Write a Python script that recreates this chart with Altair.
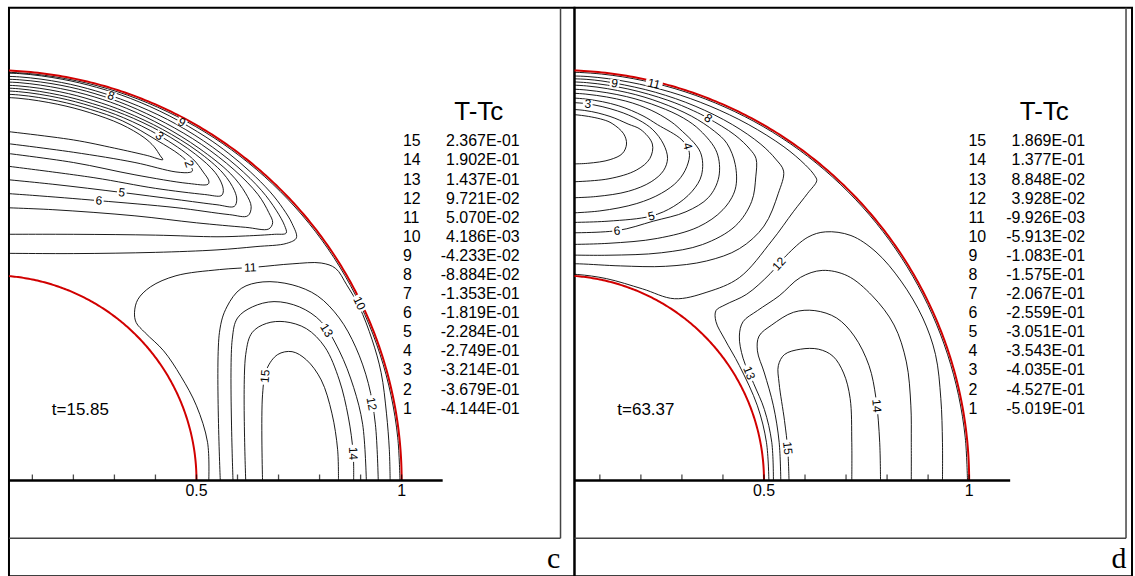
import altair as alt
import numpy as np
import pandas as pd

# ---------------- data ----------------
levels = list(range(15, 0, -1))
values_c = ["2.367E-01", "1.902E-01", "1.437E-01", "9.721E-02", "5.070E-02",
            "4.186E-03", "-4.233E-02", "-8.884E-02", "-1.353E-01", "-1.819E-01",
            "-2.284E-01", "-2.749E-01", "-3.214E-01", "-3.679E-01", "-4.144E-01"]
values_d = ["1.869E-01", "1.377E-01", "8.848E-02", "3.928E-02", "-9.926E-03",
            "-5.913E-02", "-1.083E-01", "-1.575E-01", "-2.067E-01", "-2.559E-01",
            "-3.051E-01", "-3.543E-01", "-4.035E-01", "-4.527E-01", "-5.019E-01"]
times = ["t=15.85", "t=63.37"]
letters = ["c", "d"]
legend_title = "T-Tc"
tick_values = [0.1, 0.2, 0.3, 0.4, 0.5, 0.6, 0.7, 0.8, 0.9, 1.0]
tick_labels = {0.5: "0.5", 1.0: "1"}
radii = [0.5, 1.0]

# Contours: segments of ("p", [(angle_deg, distance_from_outer_wall)]) or ("c", [(x, y)])
wall_hug = [(0, .004), (6, .004), (12, .004), (18, .004), (24, .004), (30, .004), (36, .004),
            (42, .004), (48, .004), (54, .004), (60, .004), (66, .004), (72, .004), (78, .004),
            (84, .004), (90, .004), (93, .004)]

# ---- panel c (t = 15.85) ----
c15 = [("c", [(0.661, 0.0), (0.661, 0.209), (0.671, 0.271), (0.698, 0.307), (0.733, 0.314),
              (0.768, 0.294), (0.804, 0.245), (0.830, 0.164), (0.844, 0.075), (0.846, 0.0)])]
c14 = [("c", [(0.620, 0.0), (0.620, 0.307), (0.636, 0.361), (0.671, 0.383), (0.715, 0.387),
              (0.768, 0.370), (0.813, 0.325), (0.848, 0.245), (0.870, 0.155), (0.882, 0.066),
              (0.883, 0.0)])]
c13 = [("c", [(0.589, 0.0), (0.587, 0.343), (0.600, 0.396), (0.636, 0.423), (0.689, 0.436),
              (0.751, 0.423), (0.804, 0.387), (0.848, 0.316), (0.883, 0.227), (0.905, 0.137),
              (0.914, 0.0)])]
c12 = [("c", [(0.558, 0.0), (0.556, 0.361), (0.574, 0.423), (0.609, 0.468), (0.662, 0.484),
              (0.733, 0.477), (0.795, 0.450), (0.848, 0.396), (0.888, 0.325), (0.919, 0.236),
              (0.936, 0.137), (0.943, 0.0)])]
c11 = [("c", [(0.530, 0.0), (0.527, 0.093), (0.500, 0.182), (0.462, 0.254), (0.420, 0.316),
              (0.375, 0.360), (0.353, 0.385), (0.349, 0.410), (0.357, 0.441), (0.388, 0.472),
              (0.450, 0.499), (0.556, 0.514), (0.645, 0.520), (0.733, 0.528), (0.804, 0.530),
              (0.839, 0.517), (0.866, 0.477), (0.897, 0.423), (0.928, 0.343), (0.950, 0.263),
              (0.963, 0.164), (0.970, 0.075), (0.972, 0.0)])]
c10 = [("p", wall_hug)]
c9 = [("p", [(93, .006), (86, .006), (80, .007), (75, .008), (70, .009), (64, .011), (58, .013),
             (54, .015), (50, .018), (46, .022), (43, .028), (40.5, .036), (38.5, .050)]),
      ("c", [(0.72, 0.578), (0.645, 0.570), (0.55, 0.562), (0.40, 0.556), (0.2, 0.553),
             (0.0, 0.554)])]
c8 = [("p", [(93, .013), (86, .014), (80, .015), (75, .017), (70, .019), (64, .021), (58, .024),
             (52, .028), (47, .034), (43.5, .043), (41, .053), (40, .062)]),
      ("c", [(0.69, 0.600), (0.62, 0.596), (0.55, 0.594), (0.40, 0.598), (0.2, 0.600),
             (0.0, 0.600)])]
c7 = [("p", [(93, .020), (86, .021), (80, .022), (75, .024), (70, .027), (64, .031), (58, .034),
             (52, .039), (47, .047), (44, .060), (42.5, .070)]),
      ("c", [(0.676, 0.613), (0.62, 0.617), (0.5, 0.628), (0.35, 0.645), (0.15, 0.66),
             (0.0, 0.666)])]
c6 = [("p", [(93, .027), (86, .028), (80, .030), (75, .032), (70, .035), (64, .040), (58, .045),
             (52, .052), (48.5, .065), (46.5, .080)]),
      ("c", [(0.625, 0.645), (0.58, 0.648), (0.45, 0.665), (0.262, 0.682), (0.1, 0.695),
             (0.0, 0.702)])]
c5 = [("p", [(93, .034), (86, .036), (80, .038), (75, .041), (70, .044), (64, .048), (58, .053),
             (53, .062), (50, .078), (48.8, .092)]),
      ("c", [(0.592, 0.668), (0.55, 0.672), (0.45, 0.685), (0.318, 0.702), (0.15, 0.722),
             (0.0, 0.737)])]
c4 = [("p", [(93, .041), (86, .043), (80, .046), (75, .049), (70, .051), (64, .055), (58, .062),
             (54, .072), (52, .086), (51.2, .098)]),
      ("c", [(0.56, 0.694), (0.52, 0.697), (0.40, 0.712), (0.25, 0.738), (0.0, 0.771)])]
c3 = [("p", [(93, .048), (86, .050), (80, .053), (75, .056), (70, .059), (64, .065), (58, .075),
             (55.5, .088), (54, .098)]),
      ("c", [(0.528, 0.722), (0.48, 0.724), (0.35, 0.745), (0.2, 0.775), (0.0, 0.802)])]
c2 = [("p", [(93, .056), (86, .058), (80, .061), (75, .064), (70, .067), (64, .078), (60, .083),
             (58, .090), (57, .100)]),
      ("c", [(0.484, 0.751), (0.45, 0.752), (0.35, 0.775), (0.2, 0.80), (0.0, 0.826)])]
c1 = [("p", [(93, .064), (86, .066), (80, .069), (75, .072), (70, .076), (66, .085), (64, .095),
             (62.5, .108)]),
      ("c", [(0.418, 0.782), (0.38, 0.792), (0.30, 0.81), (0.2, 0.83), (0.0, 0.855)])]
contours_c = {"15": c15, "14": c14, "13": c13, "12": c12, "11": c11, "10": c10, "9": c9,
              "8": c8, "7": c7, "6": c6, "5": c5, "4": c4, "3": c3, "2": c2, "1": c1}
labels_c = [("8", 0.292, 0.938, 17), ("9", 0.464, 0.873, 28), ("3", 0.410, 0.840, 40),
            ("2", 0.482, 0.772, 70), ("5", 0.318, 0.702, 7), ("6", 0.262, 0.682, 5),
            ("11", 0.631, 0.519, 358), ("10", 0.897, 0.432, 64), ("13", 0.817, 0.366, 58),
            ("12", 0.927, 0.187, 80), ("14", 0.882, 0.066, 88), ("15", 0.667, 0.254, 275)]

# ---- panel d (t = 63.37) ----
d15 = [("c", [(0.561, 0.0), (0.558, 0.075), (0.550, 0.146), (0.537, 0.236), (0.535, 0.280),
              (0.550, 0.307), (0.589, 0.320), (0.633, 0.320), (0.668, 0.303), (0.694, 0.262),
              (0.710, 0.200), (0.714, 0.093), (0.714, 0.0)])]
d14 = [("c", [(0.541, 0.0), (0.537, 0.093), (0.523, 0.182), (0.501, 0.262), (0.484, 0.316),
              (0.488, 0.352), (0.519, 0.379), (0.572, 0.410), (0.624, 0.414), (0.677, 0.396),
              (0.720, 0.352), (0.756, 0.280), (0.773, 0.200), (0.782, 0.093), (0.784, 0.0)])]
d13 = [("c", [(0.523, 0.0), (0.519, 0.093), (0.501, 0.173), (0.475, 0.236), (0.449, 0.298),
              (0.440, 0.352), (0.449, 0.387), (0.484, 0.414), (0.537, 0.450), (0.589, 0.495),
              (0.642, 0.512), (0.703, 0.499), (0.764, 0.450), (0.817, 0.379), (0.847, 0.289),
              (0.858, 0.182), (0.859, 0.093), (0.859, 0.0)])]
d12 = [("c", [(0.512, 0.0), (0.506, 0.093), (0.484, 0.182), (0.440, 0.280), (0.405, 0.343),
              (0.383, 0.387), (0.383, 0.414), (0.405, 0.428), (0.458, 0.454), (0.515, 0.504),
              (0.554, 0.548), (0.607, 0.593), (0.650, 0.606), (0.712, 0.597), (0.773, 0.557),
              (0.834, 0.486), (0.887, 0.396), (0.918, 0.307), (0.931, 0.200), (0.935, 0.093),
              (0.935, 0.0)])]
d11 = [("p", wall_hug)]
d10 = [("p", [(93, .013), (86, .013), (80, .014), (74, .015), (68, .016), (62, .017), (56, .019),
              (52, .024), (50, .030), (49.3, .036)]),
       ("c", [(0.6065, 0.700), (0.5715, 0.655), (0.519, 0.584), (0.44, 0.4945), (0.361, 0.459),
              (0.282, 0.443), (0.204, 0.467), (0.116, 0.492), (0.046, 0.502), (0.0, 0.503)])]
d9 = [("p", [(93, .019), (86, .020), (82, .022), (76, .025), (70, .029), (64, .035), (59, .044),
             (56, .055), (54, .068)]),
      ("c", [(0.535, 0.70), (0.50, 0.62), (0.44, 0.565), (0.36, 0.535), (0.26, 0.522),
             (0.15, 0.523), (0.05, 0.528), (0.0, 0.5285)])]
d8 = [("p", [(93, .026), (86, .028), (80, .031), (74, .036), (70, .041), (67.6, .045), (63, .055),
             (60, .068), (58.5, .080)]),
      ("c", [(0.48, 0.74), (0.47, 0.68), (0.43, 0.62), (0.35, 0.575), (0.25, 0.555),
             (0.12, 0.549), (0.0, 0.55)])]
d7 = [("p", [(93, .034), (86, .036), (80, .040), (75, .046), (70, .055), (66, .068), (63.5, .082)]),
      ("c", [(0.43, 0.77), (0.43, 0.71), (0.40, 0.66), (0.34, 0.618), (0.24, 0.59),
             (0.12, 0.578), (0.0, 0.575)])]
d6 = [("p", [(93, .043), (86, .046), (80, .050), (75, .057), (71, .066), (68, .080)]),
      ("c", [(0.385, 0.80), (0.39, 0.74), (0.365, 0.69), (0.31, 0.655), (0.23, 0.632),
             (0.142, 0.609), (0.0, 0.6035)])]
d5 = [("p", [(93, .053), (86, .056), (80, .061), (76, .070), (73, .082), (71, .094)]),
      ("c", [(0.345, 0.80), (0.348, 0.745), (0.325, 0.705), (0.28, 0.668), (0.2255, 0.6446),
             (0.12, 0.632), (0.0, 0.6285)])]
d4 = [("p", [(93, .064), (86, .068), (81, .075), (77, .088), (74.5, .100)]),
      ("c", [(0.30, 0.83), (0.318, 0.80), (0.312, 0.765), (0.29, 0.73), (0.25, 0.70),
             (0.19, 0.675), (0.10, 0.657), (0.0, 0.6508)])]
d3 = [("p", [(93, .077), (86, .079), (81, .088), (77.5, .100), (75, .115)]),
      ("c", [(0.255, 0.82), (0.265, 0.785), (0.255, 0.755), (0.225, 0.728), (0.17, 0.705),
             (0.09, 0.692), (0.0, 0.6883)])]
d2 = [("p", [(93, .092), (86, .096), (82, .104), (79, .115)]),
      ("c", [(0.20, 0.855), (0.228, 0.82), (0.222, 0.785), (0.19, 0.757), (0.12, 0.735),
             (0.0, 0.7268)])]
d1 = [("p", [(93, .105), (87, .108), (83, .114)]),
      ("c", [(0.13, 0.87), (0.158, 0.845), (0.165, 0.82), (0.155, 0.797), (0.125, 0.782),
             (0.07, 0.773), (0.0, 0.7714)])]
contours_d = {"15": d15, "14": d14, "13": d13, "12": d12, "11": d11, "10": d10, "9": d9,
              "8": d8, "7": d7, "6": d6, "5": d5, "4": d4, "3": d3, "2": d2, "1": d1}
labels_d = [("9", 0.136, 0.968, 8), ("11", 0.232, 0.967, 13), ("3", 0.0707, 0.918, 5),
            ("8", 0.364, 0.883, 35), ("4", 0.314, 0.815, 75), ("5", 0.2255, 0.6446, 347),
            ("6", 0.142, 0.609, 355), ("12", 0.5365, 0.528, 312), ("13", 0.464, 0.262, 68),
            ("14", 0.775, 0.182, 85), ("15", 0.558, 0.079, 84)]

# ---------------- layout ----------------
PX = 411.4          # pixels per data unit
H = 570
Y0 = 474            # local pixel row of y = 0
RED = "#d10000"


def contour_rows(contours):
    rows = []
    for name, segs in contours.items():
        o = 0
        for kind, pts in segs:
            for a, b in pts:
                if kind == "p":
                    r = 1.0 - b
                    x, y = r * np.cos(np.radians(a)), r * np.sin(np.radians(a))
                else:
                    x, y = a, b
                rows.append({"lev": name, "o": o, "x": x, "y": y})
                o += 1
    return pd.DataFrame(rows, columns=["lev", "o", "x", "y"])


def panel(contours, labels, values, time_txt, letter, x0_local, width):
    xdom = [(0 - x0_local) / PX, (width - x0_local) / PX]
    ydom = [(Y0 - H) / PX, Y0 / PX]
    xs = alt.Scale(domain=xdom, nice=False, zero=False)
    ys = alt.Scale(domain=ydom, nice=False, zero=False)
    X = alt.X("x:Q", scale=xs, axis=None)
    Y = alt.Y("y:Q", scale=ys, axis=None)

    def dx(px):
        return (px - x0_local) / PX

    def dy(py):
        return (Y0 - py) / PX

    lines = alt.Chart(contour_rows(contours)).mark_line(
        color="black", strokeWidth=0.9, clip=True, interpolate="catmull-rom").encode(
        x=X, y=Y, detail="lev:N", order="o:Q")

    th = np.radians(np.arange(0, 90.5, 0.5))
    wrows = []
    for r in radii:
        for i, t in enumerate(th):
            wrows.append({"r": str(r), "o": i, "x": r * np.cos(t), "y": r * np.sin(t)})
    walls = alt.Chart(pd.DataFrame(wrows)).mark_line(color=RED, strokeWidth=2, clip=True).encode(
        x=X, y=Y, detail="r:N", order="o:Q")

    ldf = pd.DataFrame(labels, columns=["t", "x", "y", "a"])
    ldf["shp"] = ["M-1,-0.42L1,-0.42L1,0.42L-1,0.42Z" if len(t) > 1 else
                  "M-1,-0.8L1,-0.8L1,0.8L-1,0.8Z" for t in ldf["t"]]
    ldf["sz"] = [290 if len(t) > 1 else 95 for t in ldf["t"]]
    boxes = alt.Chart(ldf).mark_point(filled=True, color="white", opacity=1, strokeWidth=0).encode(
        x=X, y=Y, shape=alt.Shape("shp:N", scale=None), size=alt.Size("sz:Q", scale=None),
        angle=alt.Angle("a:Q", scale=None))
    ltext = alt.Chart(ldf).mark_text(font="Arial", fontSize=12, color="black",
                                     baseline="middle", align="center").encode(
        x=X, y=Y, text="t:N", angle=alt.Angle("a:Q", scale=None))

    axdf = pd.DataFrame({"x": [0.0], "x2": [1.1], "y": [0.0]})
    axis_line = alt.Chart(axdf).mark_rule(color="black", strokeWidth=2.5, clip=True).encode(
        x=X, x2="x2:Q", y=Y)
    tdf = pd.DataFrame({"x": tick_values, "y": [0.0] * len(tick_values)})
    ticks = alt.Chart(tdf).mark_tick(color="black", orient="vertical", size=6, thickness=1.3,
                                     yOffset=-3).encode(x=X, y=Y)
    tldf = pd.DataFrame({"x": list(tick_labels.keys()), "y": [0.0] * len(tick_labels),
                         "t": list(tick_labels.values())})
    tick_text = alt.Chart(tldf).mark_text(font="Arial", fontSize=16, baseline="top", dy=3).encode(
        x=X, y=Y, text="t:N")

    n = len(levels)
    legdf = pd.DataFrame({"lev": [str(v) for v in levels], "val": values,
                          "y": [dy(134 + 19.14 * i) for i in range(n)],
                          "xn": [dx(395)] * n, "xv": [dx(512)] * n})
    leg_num = alt.Chart(legdf).mark_text(font="Arial", fontSize=16, align="left",
                                         baseline="middle").encode(
        x=alt.X("xn:Q", scale=xs, axis=None), y=Y, text="lev:N")
    leg_val = alt.Chart(legdf).mark_text(font="Arial", fontSize=16, align="right",
                                         baseline="middle").encode(
        x=alt.X("xv:Q", scale=xs, axis=None), y=Y, text="val:N")
    title = alt.Chart(pd.DataFrame({"t": [legend_title]})).mark_text(
        font="Arial", fontSize=26, align="center", baseline="middle").encode(
        x=alt.value(471), y=alt.value(105), text="t:N")
    ttxt = alt.Chart(pd.DataFrame({"t": [time_txt]})).mark_text(
        font="Arial", fontSize=17, align="left", baseline="middle").encode(
        x=alt.value(43), y=alt.value(403), text="t:N")
    let = alt.Chart(pd.DataFrame({"t": [letter]})).mark_text(
        font="Liberation Serif", fontSize=30, align="center", baseline="alphabetic").encode(
        x=alt.value(546), y=alt.value(562), text="t:N")

    fr1 = alt.Chart(pd.DataFrame({"a": [0]})).mark_rule(color="#444444", strokeWidth=1.5).encode(
        x=alt.value(553), y=alt.value(0), y2=alt.value(532))
    fr2 = alt.Chart(pd.DataFrame({"a": [0]})).mark_rule(color="#444444", strokeWidth=1.5).encode(
        x=alt.value(0), x2=alt.value(553), y=alt.value(532))

    return alt.layer(lines, walls, boxes, ltext, axis_line, ticks, tick_text,
                     leg_num, leg_val, title, ttxt, let, fr1, fr2).properties(
        width=width, height=H)


pc = panel(contours_c, labels_c, values_c, times[0], letters[0], -17.7, 567)
pd_ = panel(contours_d, labels_d, values_d, times[1], letters[1], -15.7, 559)

chart = alt.hconcat(pc, pd_, spacing=0, bounds="flush").properties(
    padding={"left": 7, "top": 5, "right": 2, "bottom": 1},
    background="white"
).configure_view(stroke="black", strokeWidth=2)

chart.save("out.html", embed_options={"renderer": "svg", "actions": False})
